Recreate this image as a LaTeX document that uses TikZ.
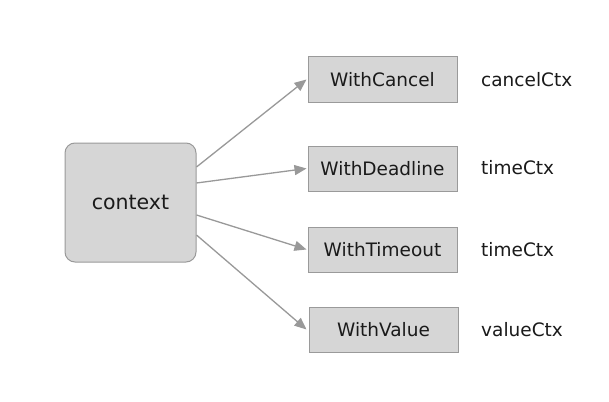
\documentclass[tikz,border=0pt]{standalone}
\usepackage{fontspec}
\setmainfont{DejaVu Sans}
\usetikzlibrary{arrows.meta}
\definecolor{boxfill}{HTML}{D6D6D6}
\definecolor{boxline}{HTML}{9A9A9A}
\definecolor{arrowc}{HTML}{999999}
\definecolor{txt}{HTML}{1A1A1A}
\begin{document}
\begin{tikzpicture}[x=1pt,y=-1pt,
  ctxbox/.style={draw=boxline,fill=boxfill,line width=1pt,rounded corners=10pt,
    minimum width=131pt,minimum height=119pt,inner sep=0pt,text=txt,
    font=\fontsize{20.5}{24}\selectfont},
  fnbox/.style={draw=boxline,fill=boxfill,line width=1pt,
    minimum width=149pt,minimum height=45pt,inner sep=0pt,text=txt,
    font=\fontsize{18.5}{22}\selectfont},
  lbl/.style={anchor=west,inner sep=0pt,text=txt,font=\fontsize{18.5}{22}\selectfont},
  conn/.style={draw=arrowc,line width=1.3pt,-{Triangle[length=12pt,width=10pt]}}]
\useasboundingbox (0,0) rectangle (609,401);
\fill[white] (0,0) rectangle (609,401);
\node[ctxbox] (ctx) at (130.5,202.5) {context};
\node[fnbox] (c1) at (382.5,79.5) {WithCancel};
\node[fnbox] (c2) at (382.5,168.5) {WithDeadline};
\node[fnbox] (c3) at (382.5,249.5) {WithTimeout};
\node[fnbox] (c4) at (383.5,329.5) {WithValue};
\node[lbl] (l1) at (481,80) {cancelCtx};
\node[lbl] (l2) at (481,168) {timeCtx};
\node[lbl] (l3) at (481,250) {timeCtx};
\node[lbl] (l4) at (481,330) {valueCtx};
\draw[conn] ([yshift=35.5pt]ctx.east) -- ([xshift=-1pt]c1.west);
\draw[conn] ([yshift=19.5pt]ctx.east) -- ([xshift=-1pt]c2.west);
\draw[conn] ([yshift=-12.5pt]ctx.east) -- ([xshift=-1pt]c3.west);
\draw[conn] ([yshift=-32.5pt]ctx.east) -- ([xshift=-2pt]c4.west);
\end{tikzpicture}
\end{document}
